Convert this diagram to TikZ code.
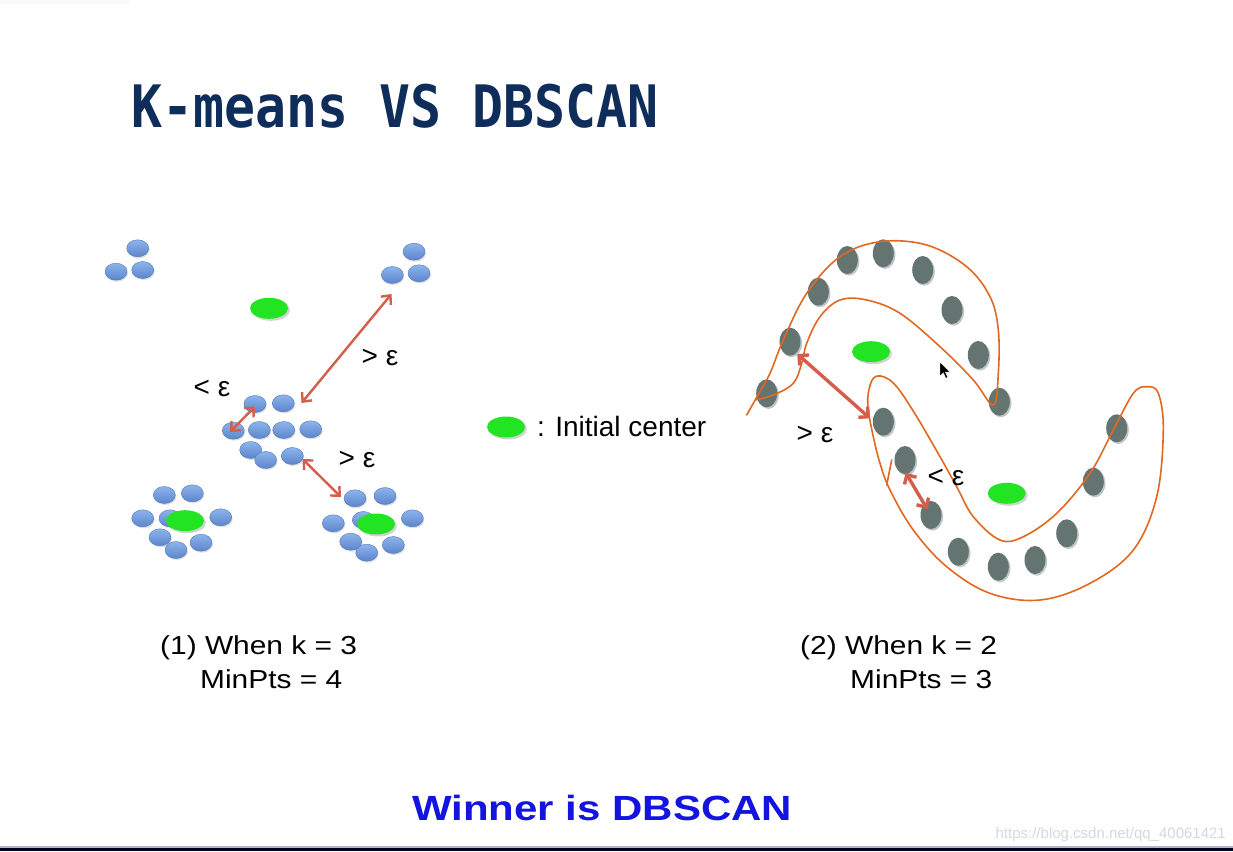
\documentclass[tikz,border=0pt]{standalone}
\usepackage{fontspec}
\setmainfont{Liberation Sans}
\newfontfamily\capfont[FakeStretch=1.15]{Liberation Sans}
\newfontfamily\winfont[FakeStretch=1.2]{Liberation Sans}
\newfontfamily\titlefont[FakeStretch=0.88]{DejaVu Sans Mono}
\usetikzlibrary{shapes.geometric,arrows.meta,shadows}
\definecolor{titleblue}{RGB}{15,45,90}
\definecolor{winblue}{RGB}{20,20,225}
\definecolor{dottop}{RGB}{140,180,236}
\definecolor{dotbot}{RGB}{92,133,204}
\definecolor{graydot}{RGB}{100,116,112}
\definecolor{grayrim}{RGB}{190,198,198}
\definecolor{cgreen}{RGB}{35,228,35}
\definecolor{arrred}{RGB}{210,95,75}
\definecolor{curveor}{RGB}{226,104,34}
\definecolor{wmark}{RGB}{212,216,224}
\definecolor{lineblue}{RGB}{176,180,200}
\tikzset{
  bdot/.style={ellipse, inner sep=0pt, minimum width=22pt, minimum height=17pt,
    top color=dottop, bottom color=dotbot, draw=dotbot!90!black, line width=0.4pt,
    drop shadow={shadow xshift=1pt, shadow yshift=-1.5pt, opacity=0.25}},
  gdot/.style={ellipse, inner sep=0pt, minimum width=21pt, minimum height=28pt,
    fill=graydot, drop shadow={fill=grayrim, opacity=1, shadow xshift=1.6pt, shadow yshift=-1.6pt}},
  center/.style={ellipse, inner sep=0pt, minimum width=38pt, minimum height=21pt,
    fill=cgreen, drop shadow={shadow xshift=2pt, shadow yshift=-2pt, opacity=0.35}},
  epsarrow/.style={draw=arrred, line width=2.4pt, {Straight Barb[length=7pt,width=13pt]}-{Straight Barb[length=7pt,width=13pt]}},
  epsarrowb/.style={draw=arrred, line width=3.4pt, {Straight Barb[length=7pt,width=14pt]}-{Straight Barb[length=7pt,width=14pt]}},
  epslabel/.style={font=\fontsize{28}{32}\selectfont, inner sep=0pt},
  caption/.style={font=\capfont\fontsize{26}{30}\selectfont, anchor=base west, inner sep=0pt},
  outline/.style={draw=curveor, line width=1.6pt, line cap=round, line join=round}
}
\begin{document}
\begin{tikzpicture}[x=1pt,y=-1pt]
\useasboundingbox (0,0) rectangle (1233,851);
\fill[white] (0,0) rectangle (1233,851);
\fill[black!2] (0,0) rectangle (130,4);
% bottom border
\fill[lineblue] (0,845.5) rectangle (1233,847.5);
\fill[black!88!blue] (0,847.5) rectangle (1233,851);

% title
\node[anchor=base west, inner sep=0pt, text=titleblue, font=\titlefont\bfseries\fontsize{58.5}{60}\selectfont] (title) at (131,127) {K-means VS DBSCAN};

% ---------------- left panel ----------------
\node[bdot] (tl1) at (137.7,248.3) {};
\node[bdot] (tl2) at (116,271.7) {};
\node[bdot] (tl3) at (142.7,270) {};
\node[bdot] (tr1) at (414,251.7) {};
\node[bdot] (tr2) at (392.3,275) {};
\node[bdot] (tr3) at (419,273.3) {};
\node[center] (c1) at (269,308.3) {};

\node[bdot] (m1) at (255,404) {};
\node[bdot] (m2) at (283.3,403.3) {};
\node[bdot] (m3) at (233.3,430.7) {};
\node[bdot] (m4) at (259.3,430) {};
\node[bdot] (m5) at (283.7,430) {};
\node[bdot] (m6) at (310.7,429.3) {};
\node[bdot] (m7) at (250.7,450) {};
\node[bdot] (m8) at (265.7,460) {};
\node[bdot] (m9) at (292.3,456) {};

\node[bdot] (bl1) at (164.3,495) {};
\node[bdot] (bl2) at (192.3,493.3) {};
\node[bdot] (bl3) at (142.7,518.3) {};
\node[bdot] (bl4) at (170,518.3) {};
\node[bdot] (bl5) at (220.7,517.3) {};
\node[bdot] (bl6) at (160,537.3) {};
\node[bdot] (bl7) at (176,550) {};
\node[bdot] (bl8) at (201,542.7) {};
\node[center] (c2) at (185,520.7) {};

\node[bdot] (br1) at (355,498.3) {};
\node[bdot] (br2) at (385,496) {};
\node[bdot] (br3) at (333.3,523.3) {};
\node[bdot] (br4) at (363.3,520) {};
\node[bdot] (br5) at (412.3,518.3) {};
\node[bdot] (br6) at (350.7,541.7) {};
\node[bdot] (br7) at (366.7,552.7) {};
\node[bdot] (br8) at (393.3,545) {};
\node[center] (c3) at (376,524) {};

\coordinate (la1) at (301.5,403);
\coordinate (la2) at (391.5,294);
\coordinate (lb1) at (255,406.5);
\coordinate (lb2) at (230,432);
\coordinate (lc1) at (302.5,459);
\coordinate (lc2) at (341,497);
\draw[epsarrow] (la1) -- (la2);
\draw[epsarrow] (lb1) -- (lb2);
\draw[epsarrow] (lc1) -- (lc2);
\node[epslabel] (le1) at (380,357) {> ε};
\node[epslabel] (le2) at (212,388) {< ε};
\node[epslabel] (le3) at (357,459) {> ε};

% legend
\node[center] (leg) at (506,427) {};
\node[anchor=base west, inner sep=0pt, font=\fontsize{28}{32}\selectfont] (legtext) at (537,436) {: Initial center};

% captions
\node[caption] (cap1a) at (160,654) {(1) When k = 3};
\node[caption] (cap1b) at (200,688) {MinPts = 4};
\node[caption] (cap2a) at (800,654) {(2) When k = 2};
\node[caption] (cap2b) at (850,688) {MinPts = 3};

% ---------------- right panel ----------------
\node[gdot] (g1) at (847.3,260) {};
\node[gdot] (g2) at (883.3,253.3) {};
\node[gdot] (g3) at (922.7,270) {};
\node[gdot] (g4) at (818.3,291.7) {};
\node[gdot] (g5) at (952,310) {};
\node[gdot] (g6) at (790,341.7) {};
\node[gdot] (g7) at (978.3,355) {};
\node[gdot] (g8) at (766.7,393.3) {};
\node[gdot] (g9) at (999.3,401.7) {};
\node[gdot] (g10) at (883.3,421.7) {};
\node[gdot] (g11) at (1116.7,428.3) {};
\node[gdot] (g12) at (905,460) {};
\node[gdot] (g13) at (1093.3,481.7) {};
\node[gdot] (g14) at (931,515) {};
\node[gdot] (g15) at (1066.7,533.3) {};
\node[gdot] (g16) at (958.3,551.7) {};
\node[gdot] (g17) at (998.3,566.7) {};
\node[gdot] (g18) at (1035,560) {};
\node[center] (c4) at (871,351.7) {};
\node[center] (c5) at (1006.7,493.3) {};

% orange outlines
\draw[outline] plot[smooth, tension=0.6] coordinates {
  (746.7,415) (758,395) (770,373.3) (783.3,340) (806.7,293.3) (840,256.7) (880,241.7)
  (926.7,245) (966.7,266.7) (990,296.7) (998.3,330) (998.3,373.3) (993.3,405)
  (973.3,380) (940,346.7) (900,313.3) (866.7,300) (840,300) (820,316.7)
  (806.7,343.3) (801.7,363.3) (793.3,383.3) (773.3,395) (755,400)};
\draw[outline] plot[smooth cycle, tension=0.6] coordinates {
  (868.3,393.3) (873.3,378.3) (883.3,376.7) (896.7,386.7) (916.7,416.7)
  (940,456.7) (956.7,486.7) (973.3,516.7) (1000,540) (1023.3,536.7)
  (1056.7,513.3) (1090,473.3) (1113.3,430) (1133.3,393.3) (1146.7,386.7)
  (1158.3,393.3) (1163.3,430) (1156.7,496.7) (1133.3,550) (1090,583.3)
  (1040,600) (990,593.3) (946.7,566.7) (913.3,530) (890,490) (880,463.3)
  (873.3,436.7) (868.3,410)};
\draw[outline] (886.7,485) -- (891.7,460);

\coordinate (ra1) at (797.3,354);
\coordinate (ra2) at (870,418.3);
\coordinate (rb1) at (905.7,472.7);
\coordinate (rb2) at (927.3,509.3);
\draw[epsarrowb] (ra1) -- (ra2);
\draw[epsarrowb] (rb1) -- (rb2);
\node[epslabel] (re1) at (815,434) {> ε};
\node[epslabel] (re2) at (946,477) {< ε};

% cursor
\filldraw[fill=black, draw=white, line width=0.4pt] (940,362) -- (940,376) -- (943.3,372.8) -- (945.8,378.3) -- (947.8,377.4) -- (945.4,372) -- (949.8,372) -- cycle;

% bottom
\node[anchor=base west, inner sep=0pt, text=winblue, font=\winfont\bfseries\fontsize{35}{40}\selectfont] (winner) at (412,820) {Winner is DBSCAN};
\node[anchor=base east, inner sep=0pt, text=wmark, font=\fontsize{15}{18}\selectfont] (wm) at (1226,838) {https://blog.csdn.net/qq\_40061421};
\end{tikzpicture}
\end{document}
